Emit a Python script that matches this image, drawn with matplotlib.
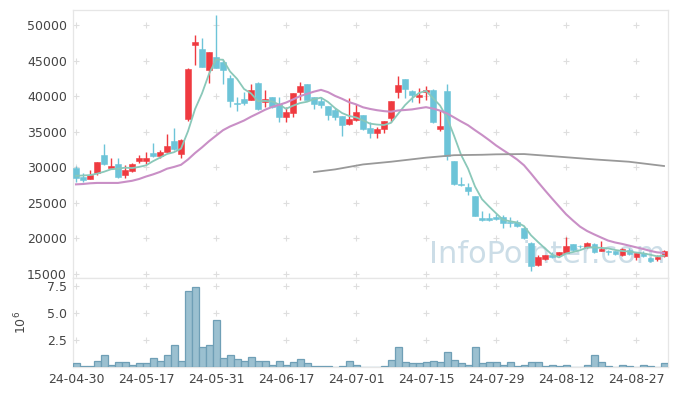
import matplotlib
matplotlib.use("Agg")
import matplotlib.pyplot as plt
import numpy as np
import pandas as pd

# daily candles, 2024-04-30 .. 2024-09-02 (KRX sessions)
opens = [29900, 28630, 28350, 29240, 31730, 29900, 30460, 28960, 29480, 30880,
         30880, 32010, 31590, 32150, 33690, 31870, 36790, 47240, 46630, 43700,
         45480, 44820, 42520, 39000, 39600, 39460, 41890, 39130, 39830, 38890,
         37020, 37680, 40630, 41660, 39830, 39320, 38610, 38050, 37210, 36130,
         36680, 37350, 35470, 34770, 35330, 36880, 40630, 42410, 40720, 39830,
         40535, 40860, 35400, 40720, 30880, 27670, 27200, 25960, 22850, 22870,
         23030, 23000, 22350, 22330, 21530, 19350, 16200, 17130, 17600, 17640,
         18000, 19215, 18940, 18840, 19215, 18280, 18230, 18250, 17620, 18370,
         17430, 17900, 17290, 17060, 17570]
highs = [30200, 29250, 29570, 30750, 33270, 31300, 31260, 30370, 30560, 31680,
         32100, 33410, 32430, 34680, 35470, 33930, 43910, 48590, 48130, 46200,
         51400, 45080, 42970, 39920, 40530, 41660, 41990, 40860, 39950, 39920,
         38520, 40490, 42030, 41750, 39930, 39920, 38610, 38280, 37210, 39690,
         38870, 37400, 36410, 35710, 36460, 39320, 42830, 42410, 40850, 41100,
         41380, 40950, 38050, 41660, 30880, 28680, 27840, 25960, 23900, 23620,
         23400, 23250, 22960, 22600, 21650, 19450, 17600, 17700, 18050, 18050,
         20150, 19215, 19070, 19500, 19300, 19600, 18370, 18300, 18700, 18600,
         17950, 18280, 17450, 17650, 18350]
lows = [27950, 27950, 28300, 28910, 30320, 29850, 28540, 28450, 29290, 30560,
        30410, 31490, 31300, 32100, 32500, 31260, 36550, 44380, 44140, 41900,
        43950, 41680, 38520, 37910, 38710, 39400, 38050, 38520, 38300, 36410,
        36410, 37020, 39460, 39400, 38140, 38400, 36700, 36700, 34400, 35950,
        36500, 35250, 34100, 34070, 34800, 36410, 39800, 39790, 39220, 38990,
        39460, 36200, 35150, 31020, 27550, 27400, 26100, 23100, 22500, 22500,
        22600, 21420, 21650, 21650, 19900, 15465, 16100, 16950, 17250, 17550,
        17900, 18280, 18600, 18700, 18000, 18230, 17670, 17700, 17550, 17600,
        17000, 17400, 16700, 16800, 17450]
closes = [28450, 28260, 28910, 30740, 30510, 30180, 28680, 29620, 30460, 31300,
          31300, 31590, 32150, 32990, 32570, 33830, 43810, 47610, 44140, 46200,
          44000, 43670, 39360, 38950, 39080, 40860, 38190, 39600, 38520, 37020,
          37770, 40390, 41420, 39460, 38850, 38800, 37390, 37110, 35990, 36810,
          37770, 35330, 34770, 35360, 36460, 39320, 41570, 40960, 40160, 40210,
          40860, 36410, 35820, 31540, 27600, 27460, 26710, 23180, 22590, 22540,
          22680, 22120, 22120, 21770, 19990, 16190, 17400, 17640, 17400, 18020,
          18950, 18420, 18900, 19310, 18140, 18580, 18100, 17760, 18580, 17760,
          17900, 17530, 16800, 17430, 18230]
volume_m = [0.37, 0.18, 0.18, 0.55, 1.19, 0.27, 0.46, 0.46, 0.27, 0.37,
            0.37, 0.91, 0.55, 1.19, 2.10, 0.55, 7.04, 7.40, 1.92, 2.10,
            4.39, 0.91, 1.19, 0.82, 0.64, 1.00, 0.55, 0.55, 0.27, 0.55,
            0.27, 0.46, 0.82, 0.37, 0.18, 0.18, 0.18, 0.09, 0.18, 0.55,
            0.27, 0.09, 0.09, 0.09, 0.18, 0.73, 1.92, 0.46, 0.37, 0.37,
            0.46, 0.64, 0.46, 1.46, 0.73, 0.37, 0.27, 1.92, 0.37, 0.46,
            0.46, 0.27, 0.46, 0.18, 0.27, 0.46, 0.46, 0.18, 0.27, 0.18,
            0.27, 0.09, 0.09, 0.27, 1.10, 0.46, 0.18, 0.09, 0.27, 0.18,
            0.09, 0.27, 0.18, 0.09, 0.37]

ma5_head = [28800, 28850, 28900, 29100]
ma20_head = [27600, 27650, 27750, 27800, 27800, 27800, 27800, 27950, 28100, 28350,
             28700, 29000, 29350, 29800, 30050, 30350, 31100, 32000, 32800]
# long moving average (grey)
ma_long_idx = [34, 37, 41, 45, 50, 54, 58, 60, 64, 69, 74, 79, 84]
ma_long = [29330, 29700, 30400, 30780, 31350, 31700, 31760, 31820, 31860, 31490,
           31110, 30780, 30180]

tick_idx = [0, 10, 20, 30, 40, 50, 60, 70, 80]
tick_labels = ["24-04-30", "24-05-17", "24-05-31", "24-06-17", "24-07-01",
               "24-07-15", "24-07-29", "24-08-12", "24-08-27"]
price_ticks = [15000, 20000, 25000, 30000, 35000, 40000, 45000, 50000]
vol_ticks = [2.5, 5.0, 7.5]

UP, DOWN = "#ef3a40", "#6dc4d8"
GRID = "#dedede"
TXT = "#444444"

o, h, l, c = (np.array(a, float) for a in (opens, highs, lows, closes))
x = np.arange(len(c))
cs = pd.Series(c)
ma5 = np.r_[ma5_head, cs.rolling(5).mean().to_numpy()[4:]]
ma20 = np.r_[ma20_head, cs.rolling(20).mean().to_numpy()[19:]]

fig = plt.figure(figsize=(6.77, 3.96), dpi=100)
ax = fig.add_axes([0.1071, 0.2980, 0.8789, 0.6767])
axv = fig.add_axes([0.1071, 0.0720, 0.8789, 0.2260], sharex=ax)

ax.text(0.997, 0.035, "InfoPointer.com", transform=ax.transAxes, ha="right", va="bottom",
        fontsize=22, color="#c3d8e3", alpha=0.85, zorder=1)

up = c >= o
col = np.where(up, UP, DOWN)
ax.vlines(x, l, h, colors=col, lw=1.0, zorder=3)
body = np.maximum(np.abs(c - o), 80)
ax.bar(x, body, bottom=np.minimum(o, c), width=0.72, color=col, edgecolor=col,
       lw=0.4, zorder=4)

ax.plot(x, ma5, color="#8ac8b9", lw=1.3, zorder=5)
ax.plot(x, ma20, color="#c98fc6", lw=1.5, zorder=5)
ax.plot(ma_long_idx, ma_long, color="#999999", lw=1.3, zorder=5)

axv.bar(x, volume_m, width=1.0, color="#9bc0d0", edgecolor="#6f9fb6", lw=0.9, zorder=3)

gx, gy = np.meshgrid(tick_idx, price_ticks)
ax.plot(gx.ravel(), gy.ravel(), "+", color=GRID, ms=5, mew=0.8, zorder=0)
gx, gy = np.meshgrid(tick_idx, vol_ticks)
axv.plot(gx.ravel(), gy.ravel(), "+", color=GRID, ms=5, mew=0.8, zorder=0)

ax.set_xlim(-0.5, len(c) - 0.5)
ax.set_ylim(14436, 52109)
axv.set_ylim(0, 8.2)
ax.set_yticks(price_ticks)
axv.set_yticks(vol_ticks)
axv.set_yticklabels([f"{v:.1f}" for v in vol_ticks])
axv.set_xticks(tick_idx)
axv.set_xticklabels(tick_labels)
axv.set_ylabel("$10^6$", fontsize=9, color=TXT)
axv.yaxis.set_label_coords(-0.072, 0.5)

for a in (ax, axv):
    a.tick_params(length=0, labelsize=9, labelcolor=TXT, pad=4)
    for s in a.spines.values():
        s.set_color("#e6e6e6")
        s.set_linewidth(0.9)
ax.tick_params(axis="x", labelbottom=False)
axv.tick_params(axis="x", pad=4)

fig.savefig("out.png", dpi=100)
